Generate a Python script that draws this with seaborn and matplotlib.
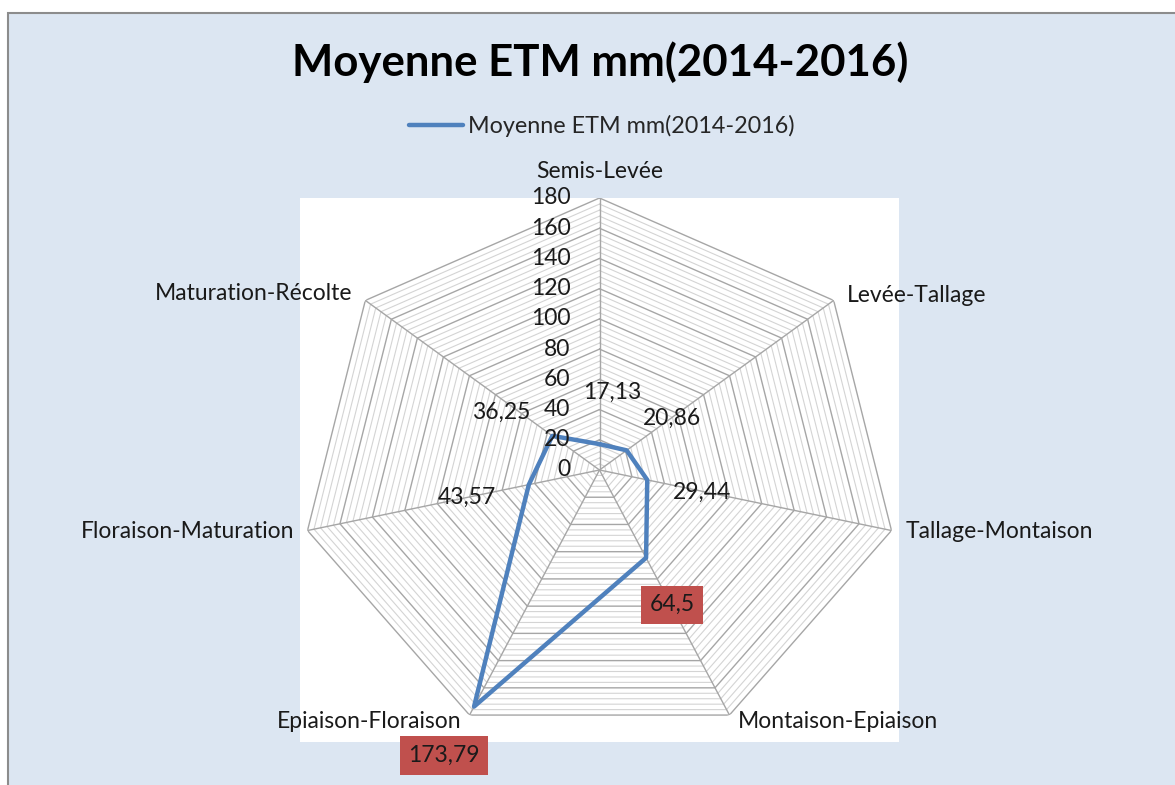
import numpy as np
import pandas as pd
import seaborn as sns
import matplotlib.pyplot as plt
from matplotlib.patches import Rectangle

stages = ['Semis-Levée', 'Levée-Tallage', 'Tallage-Montaison', 'Montaison-Epiaison',
          'Epiaison-Floraison', 'Floraison-Maturation', 'Maturation-Récolte']
etm = [17.13, 20.86, 29.44, 64.5, 173.79, 43.57, 36.25]
etmLabels = ['17,13', '20,86', '29,44', '64,5', '173,79', '43,57', '36,25']
highlight = [False, False, False, True, True, False, False]
rTicks = list(range(0, 181, 20))
title = 'Moyenne ETM mm(2014-2016)'

W, H = 1175, 785
px = 0.72  # pixel -> points at dpi 100

sns.set_theme(style='white')
plt.rcParams['font.family'] = ['Lato', 'DejaVu Sans']

fig = plt.figure(figsize=(W / 100, H / 100), dpi=100)
fig.patch.set_facecolor('white')

# chart area (light blue with grey border)
fig.add_artist(Rectangle((8 / W, -0.01), 1.0, 1 - 13 / H + 0.01, transform=fig.transFigure,
                         facecolor='#DCE6F2', edgecolor='#8C8C8C', lw=1.5, zorder=-10))
# plot area (white)
pa = [300 / W, (H - 742) / H, 599 / W, 544 / H]
fig.add_artist(Rectangle((pa[0], pa[1]), pa[2], pa[3], transform=fig.transFigure,
                         facecolor='white', edgecolor='none', zorder=-9))

ax = fig.add_axes(pa, projection='polar')
ax.set_aspect('auto')
ax.patch.set_visible(False)
ax.set_theta_offset(np.pi / 2)
ax.set_theta_direction(-1)
ax.set_ylim(0, 180)
ax.set_xticks([])
ax.set_yticks([])
ax.grid(False)
ax.spines['polar'].set_visible(False)

n = len(stages)
theta = np.arange(n) * 2 * np.pi / n
thetaClosed = np.append(theta, theta[0])

# polygon gridlines
for r in range(4, 181, 4):
    major = r % 20 == 0
    ax.plot(thetaClosed, [r] * (n + 1), color='#A6A6A6' if major else '#D4D4D4',
            lw=1.0 if major else 0.8, zorder=1)
for th in theta:
    ax.plot([th, th], [0, 180], color='#A6A6A6', lw=1.0, zorder=1)

df = pd.DataFrame({'theta': thetaClosed, 'value': etm + etm[:1]})
sns.lineplot(data=df, x='theta', y='value', sort=False, estimator=None, ax=ax,
             color='#4F81BD', linewidth=3.2, label=title, zorder=3)
handles, labels = ax.get_legend_handles_labels()
ax.get_legend().remove()
ax.set_xlabel('')
ax.set_ylabel('')

fs = 16.5
# radial tick labels
for v in rTicks:
    ax.annotate(str(v), (0, v), xytext=(-29 * px, 0), textcoords='offset points',
                ha='right', va='center', fontsize=fs, color='#1A1A1A', annotation_clip=False)

# category labels
catOff = [(0, 27, 'center', 'center'), (13, 5, 'left', 'center'), (14, -1, 'left', 'center'),
          (8, -6, 'left', 'center'), (-8, -6, 'right', 'center'), (-13, -1, 'right', 'center'),
          (-13, 7, 'right', 'center')]
for th, name, (dx, dy, ha, va) in zip(theta, stages, catOff):
    ax.annotate(name, (th, 180), xytext=(dx * px, dy * px), textcoords='offset points',
                ha=ha, va=va, fontsize=fs, color='#1A1A1A', annotation_clip=False)

# data labels
labOff = [(13, 52), (45, 32), (55, -12), (26, -47), (-30, -49), (-62, -13), (-51, 24)]
for th, v, lab, hl, (dx, dy) in zip(theta, etm, etmLabels, highlight, labOff):
    box = dict(boxstyle='square,pad=0.38', fc='#C0504D', ec='none') if hl else None
    ax.annotate(lab, (th, v), xytext=(dx * px, dy * px), textcoords='offset points',
                ha='center', va='center', fontsize=fs, color='#1A1A1A', bbox=box,
                annotation_clip=False, zorder=5)

fig.text(600 / W, 1 - 62 / H, title, ha='center', va='center', fontsize=31.5,
         fontweight='bold', color='black')

fig.legend(handles, labels, loc='center', bbox_to_anchor=(602 / W, 1 - 126 / H),
           frameon=False, fontsize=16.8, handlelength=2.3, handletextpad=0.22)

plt.savefig('out.png', dpi=100)
